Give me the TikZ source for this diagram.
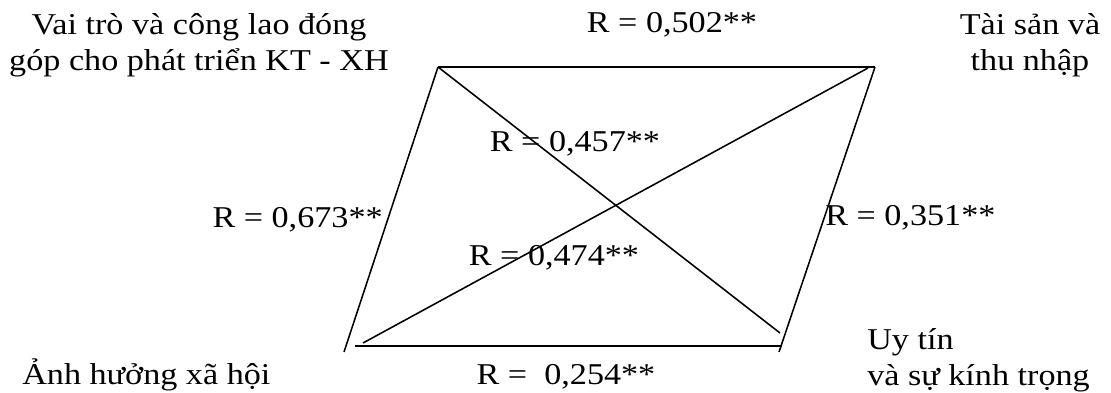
\documentclass[tikz,border=0pt]{standalone}
\usepackage{fontspec}
\setmainfont[FakeStretch=1.13]{Liberation Serif}
\usetikzlibrary{positioning}

\begin{document}
\begin{tikzpicture}[x=0.025cm, y=-0.025cm, >=stealth,
    every node/.style={font=\fontsize{21.5}{25.5}\selectfont, inner sep=0pt},
    side/.style={line width=1.1pt}]
  \useasboundingbox (0,0) rectangle (1111,393);

  % corners of the parallelogram
  \coordinate (vaitro-c) at (438,67);
  \coordinate (taisan-c) at (875,67);
  \coordinate (anhhuong-c) at (344,352);
  \coordinate (uytin-c) at (779,352);
  \coordinate (bot-l) at (355,346);
  \coordinate (bot-r) at (782,346);
  \coordinate (diag-a) at (780,333);
  \coordinate (diag-b) at (363,343);
  \coordinate (diag-c) at (868,68);

  % sides and diagonals
  \draw[side] (vaitro-c) -- (taisan-c);
  \draw[side] (vaitro-c) -- (anhhuong-c);
  \draw[side] (taisan-c) -- (uytin-c);
  \draw[side] (bot-l) -- (bot-r);
  \draw[side] (vaitro-c) -- (diag-a);
  \draw[side] (diag-b) -- (diag-c);

  % the four factors
  \node[align=center] (vaitro) at (199,45) {Vai trò và công lao đóng\\góp cho phát triển KT - XH};
  \node[align=center] (taisan) at (1030,45) {Tài sản và\\thu nhập};
  \node[anchor=base west] (anhhuong) at (22,384) {Ảnh hưởng xã hội};
  \node[align=left, anchor=west] (uytin) at (867,360) {Uy tín\\và sự kính trọng};

  % correlations
  \node[anchor=base] (r502) at (672,33) {R = 0,502**};
  \node[anchor=base] (r457) at (575,152) {R = 0,457**};
  \node[anchor=base east] (r673) at (383,228) {R = 0,673**};
  \node[anchor=base west] (r351) at (825,226) {R = 0,351**};
  \node[anchor=base] (r474) at (554,265) {R = 0,474**};
  \node[anchor=base] (r254) at (566,384) {R =\ \ 0,254**};
\end{tikzpicture}
\end{document}
